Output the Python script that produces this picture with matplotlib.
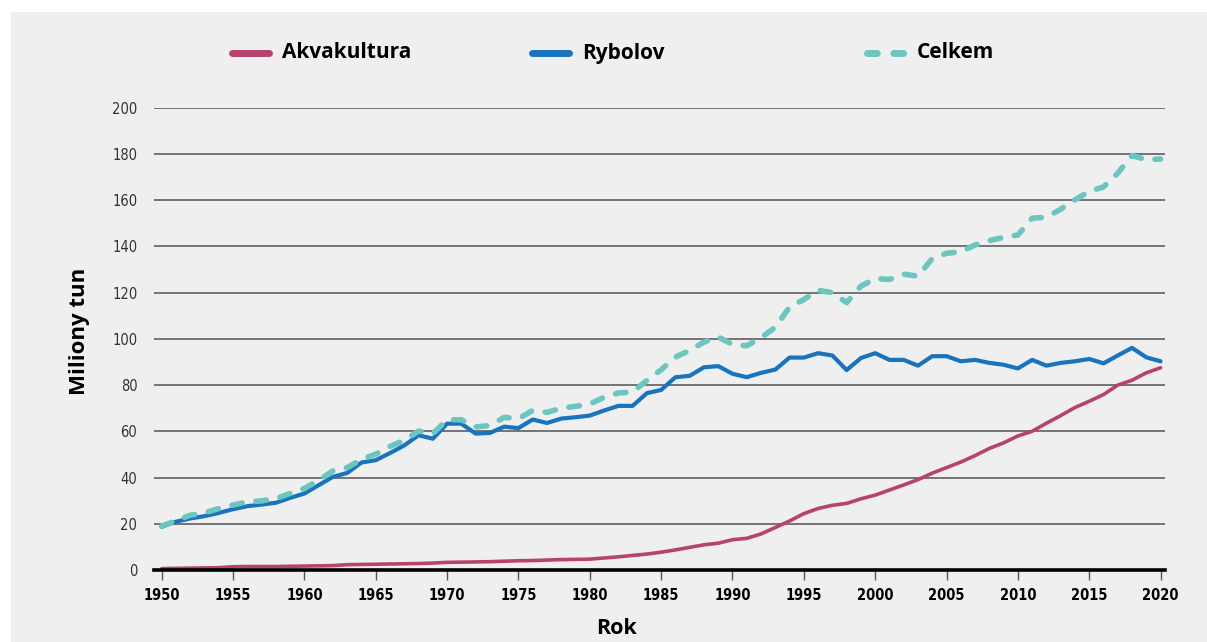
import matplotlib
matplotlib.use('Agg')
import matplotlib.pyplot as plt
from matplotlib import font_manager
from matplotlib.lines import Line2D
from matplotlib.patches import Rectangle

# data (millions of tonnes)
years = list(range(1950, 2021))
akvakultura = [0.6, 0.7, 0.8, 0.9, 1.0, 1.4, 1.5, 1.5, 1.5, 1.6, 1.7,
               1.8, 1.9, 2.3, 2.4, 2.5, 2.6, 2.7, 2.8, 3.0, 3.3,
               3.4, 3.5, 3.6, 3.8, 4.0, 4.1, 4.3, 4.5, 4.6, 4.7,
               5.2, 5.7, 6.3, 6.9, 7.7, 8.7, 9.8, 10.9, 11.6, 13.1,
               13.7, 15.6, 18.4, 21.2, 24.4, 26.6, 28.0, 28.8, 30.8, 32.4,
               34.6, 36.8, 39.1, 41.9, 44.3, 46.7, 49.5, 52.6, 55.0, 58.0,
               60.0, 63.5, 66.8, 70.3, 73.0, 75.9, 80.0, 82.1, 85.3, 87.5]
rybolov = [18.7, 20.9, 22.3, 23.3, 24.7, 26.3, 27.6, 28.3, 29.1, 31.2, 33.1,
           36.7, 40.3, 42.0, 46.5, 47.5, 50.6, 53.9, 58.3, 56.8, 63.3,
           63.3, 59.0, 59.3, 62.0, 61.4, 65.1, 63.6, 65.5, 66.1, 66.8,
           69.0, 71.0, 71.0, 76.5, 77.9, 83.4, 84.0, 87.7, 88.2, 84.9,
           83.4, 85.3, 86.7, 91.9, 91.9, 93.8, 92.8, 86.5, 91.7, 93.8,
           90.9, 90.9, 88.4, 92.5, 92.5, 90.3, 90.9, 89.6, 88.8, 87.2,
           90.9, 88.4, 89.6, 90.3, 91.3, 89.4, 92.8, 96.1, 92.0, 90.3]
celkem = [19.0, 21.3, 23.7, 24.7, 26.6, 28.1, 29.5, 29.9, 30.9, 33.1, 35.3,
          38.8, 42.9, 44.3, 47.9, 50.1, 53.5, 56.1, 60.1, 59.0, 65.0,
          65.0, 61.9, 62.5, 66.0, 65.5, 69.0, 68.2, 70.0, 70.8, 71.8,
          74.7, 76.6, 77.0, 82.0, 86.6, 92.1, 95.0, 98.6, 100.8, 97.6,
          97.0, 100.5, 105.0, 113.8, 117.0, 121.0, 120.0, 115.7, 122.8, 126.1,
          125.7, 128.0, 127.1, 134.8, 137.0, 137.7, 140.6, 142.5, 143.9, 144.9,
          152.2, 152.6, 156.1, 160.1, 163.8, 165.7, 171.7, 179.3, 177.5, 177.8]

series_labels = ['Akvakultura', 'Rybolov', 'Celkem']
x_ticks = list(range(1950, 2021, 5))
y_ticks = list(range(0, 201, 20))

C_AQUA = '#b8426f'
C_FISH = '#1a74bd'
C_TOTAL = '#6cc6bf'
BG = '#efefef'

# pick a narrow face for the tick labels if there is one
fonts = font_manager.fontManager.ttflist
names = {f.name for f in fonts}
if any(f.name == 'DejaVu Sans' and f.stretch == 'condensed' for f in fonts):
    tick_font = dict(family='DejaVu Sans', stretch='condensed')
    tick_size = 10.5
elif 'Liberation Sans Narrow' in names:
    tick_font = dict(family='Liberation Sans Narrow')
    tick_size = 11
else:
    tick_font = dict(family='Roboto')
    tick_size = 10
title_font = ['Open Sans', 'DejaVu Sans']
plt.rcParams['font.family'] = ['DejaVu Sans']

W, H, DPI = 1207, 642, 100
fig = plt.figure(figsize=(W / DPI, H / DPI), dpi=DPI, facecolor='white')
fig.patches.append(Rectangle((11 / W, 0), 1, 1 - 12 / H, transform=fig.transFigure,
                             facecolor=BG, edgecolor='none', zorder=-10))

ax = fig.add_axes([154 / W, 72 / H, (1165 - 154) / W, (570 - 107.7) / H])
ax.set_facecolor(BG)

ax.plot(years, akvakultura, color=C_AQUA, lw=2.6, solid_capstyle='round', zorder=3)
ax.plot(years, rybolov, color=C_FISH, lw=3.0, solid_capstyle='round', zorder=4)
ax.plot(years, celkem, color=C_TOTAL, lw=4.0, dashes=(1.9, 2.5),
        dash_capstyle='round', zorder=5)

ax.set_xlim(1949.46, 2020.31)
ax.set_ylim(0, 200)
ax.set_xticks(x_ticks)
ax.set_yticks(y_ticks)
ax.yaxis.grid(True, color='#5e5e5e', lw=1.2)
ax.set_axisbelow(True)
for s in ['top', 'right', 'left']:
    ax.spines[s].set_visible(False)
ax.spines['bottom'].set_color('black')
ax.spines['bottom'].set_linewidth(2.6)
ax.spines['bottom'].set_zorder(6)

ax.tick_params(axis='y', length=0, pad=12, labelsize=tick_size, labelcolor='#333333')
ax.tick_params(axis='x', length=7, width=1, color='#555555', pad=6, labelsize=tick_size)
for lab in ax.get_yticklabels():
    lab.set(**tick_font)
for lab in ax.get_xticklabels():
    lab.set(**tick_font)
    lab.set_fontweight('bold')

fig.text(617 / W, 1 - 628 / H, 'Rok', fontsize=15.5, fontweight='bold',
         family=title_font, ha='center', va='center')
fig.text(80 / W, 1 - 331 / H, 'Miliony tun', fontsize=16, fontweight='bold',
         family=title_font, rotation=90, ha='center', va='center')

# legend drawn across the top
leg_x = [232, 532, 867]
leg_y = 1 - 53 / H
styles = [dict(color=C_AQUA, lw=5, solid_capstyle='round'),
          dict(color=C_FISH, lw=5, solid_capstyle='round'),
          dict(color=C_TOTAL, lw=5, dashes=(1.4, 2.4), dash_capstyle='round')]
for x0, lab, st in zip(leg_x, series_labels, styles):
    fig.add_artist(Line2D([x0 / W, (x0 + 37) / W], [leg_y, leg_y],
                          transform=fig.transFigure, **st))
    fig.text((x0 + 50) / W, leg_y, lab, fontsize=15, fontweight='bold',
             family=title_font, va='center', ha='left', color='black')

fig.savefig('out.png', dpi=DPI, facecolor=fig.get_facecolor())
